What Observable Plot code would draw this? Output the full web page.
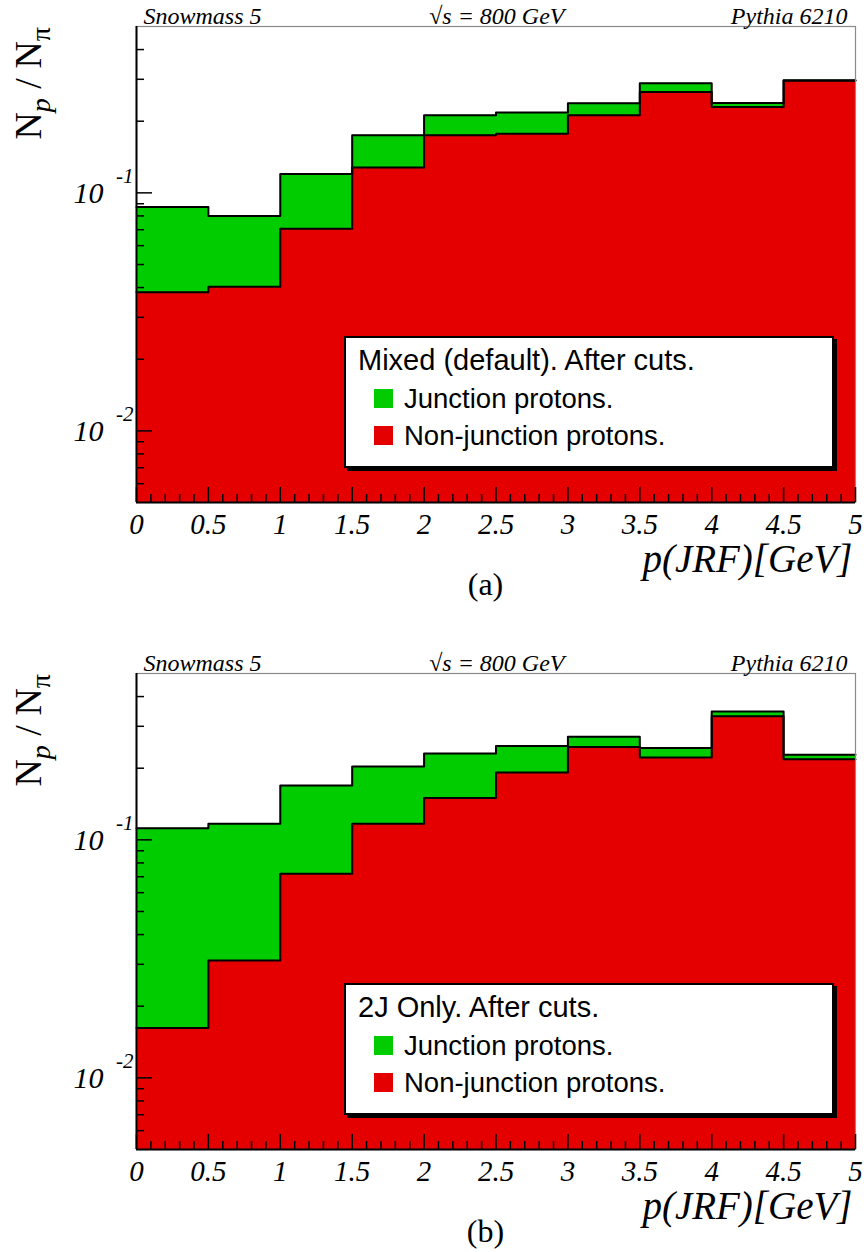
<!DOCTYPE html>
<html>
<head>
<meta charset="utf-8">
<script src="https://cdn.jsdelivr.net/npm/d3@7"></script>
<script src="https://cdn.jsdelivr.net/npm/@observablehq/plot@0.6"></script>
<style>
  body { margin: 0; background: #fff; }
  #chart { width: 864px; }
  #chart svg { display: block; overflow: visible; }
</style>
</head>
<body>
<div id="chart"></div>
<script>
// ---- data ----
const binLo = [0, 0.5, 1, 1.5, 2, 2.5, 3, 3.5, 4, 4.5];
const binHi = [0.5, 1, 1.5, 2, 2.5, 3, 3.5, 4, 4.5, 5];

// Panel (a): Mixed (default). After cuts.
const totalA    = [0.0873, 0.0800, 0.1200, 0.1748, 0.2120, 0.2177, 0.2380, 0.2890, 0.2387, 0.2975];
const nonJuncA  = [0.0382, 0.0403, 0.0706, 0.1279, 0.1748, 0.1770, 0.2120, 0.2650, 0.2297, 0.2960];
// Panel (b): 2J Only. After cuts.
const totalB    = [0.1119, 0.1170, 0.1690, 0.2035, 0.2307, 0.2477, 0.2710, 0.2429, 0.3460, 0.2278];
const nonJuncB  = [0.0162, 0.0311, 0.0720, 0.1170, 0.1500, 0.1920, 0.2455, 0.2220, 0.3310, 0.2180];

const xDomain = [0, 5];
const yDomain = [0.005, 0.5];
const xMajorTicks = [0, 0.5, 1, 1.5, 2, 2.5, 3, 3.5, 4, 4.5, 5];
const xTickLabels = ["0", "0.5", "1", "1.5", "2", "2.5", "3", "3.5", "4", "4.5", "5"];
const xMinorTicks = [0.1,0.2,0.3,0.4, 0.6,0.7,0.8,0.9, 1.1,1.2,1.3,1.4, 1.6,1.7,1.8,1.9,
                     2.1,2.2,2.3,2.4, 2.6,2.7,2.8,2.9, 3.1,3.2,3.3,3.4, 3.6,3.7,3.8,3.9,
                     4.1,4.2,4.3,4.4, 4.6,4.7,4.8,4.9];
const yMajorTicks = [0.01, 0.1];
const yTickBase = ["10", "10"];
const yTickExp = ["-2", "-1"];
const yMinorTicks = [0.006, 0.007, 0.008, 0.009, 0.02, 0.03, 0.04, 0.05, 0.06, 0.07, 0.08, 0.09, 0.2, 0.3, 0.4];

const topTexts = ["Snowmass 5", "\u221As = 800 GeV", "Pythia 6210"];
const xTitle = "p(JRF)[GeV]";
const legendTitles = ["Mixed (default). After cuts.", "2J Only. After cuts."];
const seriesNames = ["Junction protons.", "Non-junction protons."];
const captions = ["(a)", "(b)"];

const GREEN = "#00cc00";
const RED = "#e50000";
const SERIF = "'Liberation Serif', 'Times New Roman', serif";
const SANS = "'Liberation Sans', Arial, sans-serif";

function steps(vals) {
  return vals.flatMap((v, i) => [{x: binLo[i], y: v}, {x: binHi[i], y: v}]);
}

function panel(total, nonJunc, legendTitle, caption, height) {
  const mb = height - 502;
  const plot = Plot.plot({
    width: 864, height,
    marginLeft: 136, marginRight: 9, marginTop: 26, marginBottom: mb,
    style: {background: "transparent", overflow: "visible"},
    x: {domain: xDomain, axis: null},
    y: {type: "log", domain: yDomain, axis: null},
    marks: [
      Plot.areaY(steps(total), {x: "x", y1: yDomain[0], y2: "y", fill: GREEN}),
      Plot.areaY(steps(nonJunc), {x: "x", y1: yDomain[0], y2: "y", fill: RED}),
      Plot.line(steps(total), {x: "x", y: "y", stroke: "#000", strokeWidth: 2}),
      Plot.line(steps(nonJunc), {x: "x", y: "y", stroke: "#000", strokeWidth: 2}),
      Plot.frame({stroke: "#8a8a8a", strokeWidth: 1.2}),
      Plot.ruleX([xDomain[0]], {stroke: "#000", strokeWidth: 2}),
      Plot.ruleY([yDomain[0]], {stroke: "#000", strokeWidth: 2}),
      Plot.axisY({ticks: yMajorTicks, tickSize: -16, tickFormat: () => "", label: null, stroke: "#000", strokeWidth: 1.5}),
      Plot.axisY({ticks: yMinorTicks, tickSize: -8, tickFormat: () => "", label: null, stroke: "#000", strokeWidth: 1.5}),
      Plot.axisX({ticks: xMajorTicks, tickSize: -15, tickFormat: () => "", label: null, stroke: "#000", strokeWidth: 1.5}),
      Plot.axisX({ticks: xMinorTicks, tickSize: -8, tickFormat: () => "", label: null, stroke: "#000", strokeWidth: 1.5}),
      // x tick labels
      Plot.text(xMajorTicks, {x: d => d, text: (d, i) => xTickLabels[i], frameAnchor: "bottom",
        dy: 22, lineAnchor: "middle", fontSize: 29, fontStyle: "italic", fontFamily: SERIF, fill: "#000"}),
      // y tick labels: 10 ^ exponent
      Plot.text(yMajorTicks, {y: d => d, text: (d, i) => yTickBase[i], frameAnchor: "left",
        dx: -33, dy: 1, textAnchor: "end", lineAnchor: "middle", fontSize: 30, fontStyle: "italic", fontFamily: SERIF, fill: "#000"}),
      Plot.text(yMajorTicks, {y: d => d, text: (d, i) => yTickExp[i], frameAnchor: "left",
        dx: -3, dy: -17, textAnchor: "end", lineAnchor: "middle", fontSize: 21, fontStyle: "italic", fontFamily: SERIF, fill: "#000"}),
      // header texts
      Plot.text([topTexts[0]], {frameAnchor: "top-left", dx: 7, dy: -10, textAnchor: "start", lineAnchor: "middle",
        fontSize: 24, fontStyle: "italic", fontFamily: SERIF, fill: "#000"}),
      Plot.text([topTexts[1]], {frameAnchor: "top-left", dx: 428, dy: -10, textAnchor: "end", lineAnchor: "middle",
        fontSize: 24, fontStyle: "italic", fontFamily: SERIF, fill: "#000"}),
      Plot.text([topTexts[2]], {frameAnchor: "top-right", dx: -8, dy: -10, textAnchor: "end", lineAnchor: "middle",
        fontSize: 24, fontStyle: "italic", fontFamily: SERIF, fill: "#000"}),
      // x title
      Plot.text([xTitle], {frameAnchor: "bottom-right", dx: -3, dy: 57, textAnchor: "end", lineAnchor: "middle",
        fontSize: 39, fontStyle: "italic", fontFamily: SERIF, fill: "#000"}),
      // caption
      Plot.text([caption], {frameAnchor: "bottom", dx: -10.5, dy: 82, textAnchor: "middle", lineAnchor: "middle",
        fontSize: 32, fontFamily: SERIF, fill: "#000"})
    ]
  });

  const svg = d3.select(plot);
  // y axis title N_p / N_pi (rotated)
  const yt = svg.append("text")
    .attr("transform", "translate(41,27) rotate(-90)")
    .attr("text-anchor", "end")
    .attr("font-family", SERIF)
    .attr("font-size", 38)
    .attr("fill", "#000");
  yt.append("tspan").text("N");
  yt.append("tspan").attr("dy", 9).attr("font-size", 28).attr("font-style", "italic").text("p");
  yt.append("tspan").attr("dy", -9).text(" / N");
  yt.append("tspan").attr("dy", 9).attr("font-size", 28).text("\u03C0");

  // legend box
  const lg = svg.append("g").attr("transform", "translate(344,336)").attr("text-anchor", "start");
  lg.append("rect").attr("x", 3).attr("y", 3).attr("width", 490).attr("height", 132).attr("fill", "#000");
  lg.append("rect").attr("x", 1).attr("y", 1).attr("width", 488).attr("height", 130)
    .attr("fill", "#fff").attr("stroke", "#000").attr("stroke-width", 2);
  lg.append("text").attr("x", 14).attr("y", 34).attr("text-anchor", "start").attr("font-family", SANS).attr("font-size", 29)
    .attr("fill", "#000").text(legendTitle);
  const colors = [GREEN, RED];
  const sqTop = [53, 90];
  const baselines = [72, 109];
  seriesNames.forEach((name, i) => {
    lg.append("rect").attr("x", 30).attr("y", sqTop[i]).attr("width", 19).attr("height", 19).attr("fill", colors[i]);
    lg.append("text").attr("x", 60).attr("y", baselines[i]).attr("text-anchor", "start").attr("font-family", SANS).attr("font-size", 27.5)
      .attr("fill", "#000").text(name);
  });
  return plot;
}

const chart = document.getElementById("chart");
chart.appendChild(panel(totalA, nonJuncA, legendTitles[0], captions[0], 647));
chart.appendChild(panel(totalB, nonJuncB, legendTitles[1], captions[1], 605));
</script>
</body>
</html>
